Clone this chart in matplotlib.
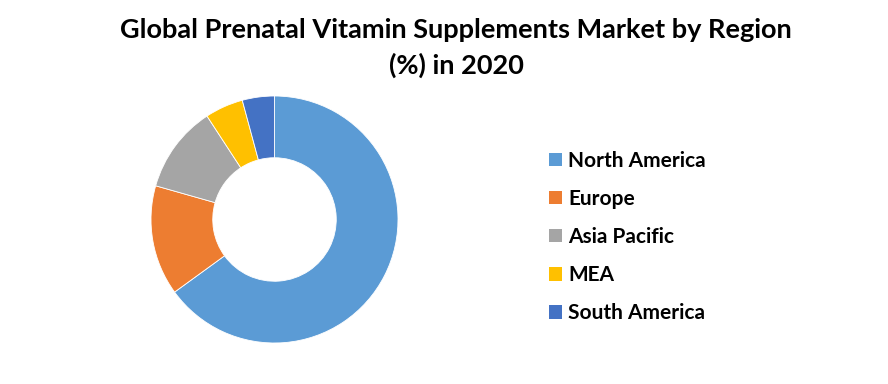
import matplotlib
matplotlib.use("Agg")
import matplotlib.pyplot as plt
from matplotlib.patches import Patch

regions = ["North America", "Europe", "Asia Pacific", "MEA", "South America"]
shares = [65.0, 14.4, 11.4, 5.0, 4.2]
colors = ["#5B9BD5", "#ED7D31", "#A5A5A5", "#FFC000", "#4472C4"]
title = "Global Prenatal Vitamin Supplements Market by Region\n(%) in 2020"

plt.rcParams['font.family'] = ['Lato', 'DejaVu Sans']

fig = plt.figure(figsize=(8.88, 3.84), dpi=100)

# donut, placed in pixel terms
cx, cy, r = 274.5, 219.5, 123.5
ax = fig.add_axes([(cx - r) / 888, (384 - cy - r) / 384, 2 * r / 888, 2 * r / 384])
ax.pie(shares, colors=colors, startangle=90, counterclock=False, radius=1,
       wedgeprops=dict(width=0.5, edgecolor='white', linewidth=0.6))
ax.set_xlim(-1, 1)
ax.set_ylim(-1, 1)
ax.set_aspect('equal')
ax.axis('off')

fig.text(456 / 888, 1 - 48 / 384, title, ha='center', va='center',
         fontsize=19.5, fontweight='bold', linespacing=1.5)

handles = [Patch(facecolor=c, edgecolor='none') for c in colors]
fig.legend(handles, regions, loc='center left', bbox_to_anchor=(549 / 888, 1 - 237 / 384),
           frameon=False, handlelength=0.62, handleheight=0.62,
           handletextpad=0.3, labelspacing=0.87, borderpad=0, borderaxespad=0,
           prop={'weight': 'bold', 'size': 15})

fig.savefig("out.png", dpi=100)
